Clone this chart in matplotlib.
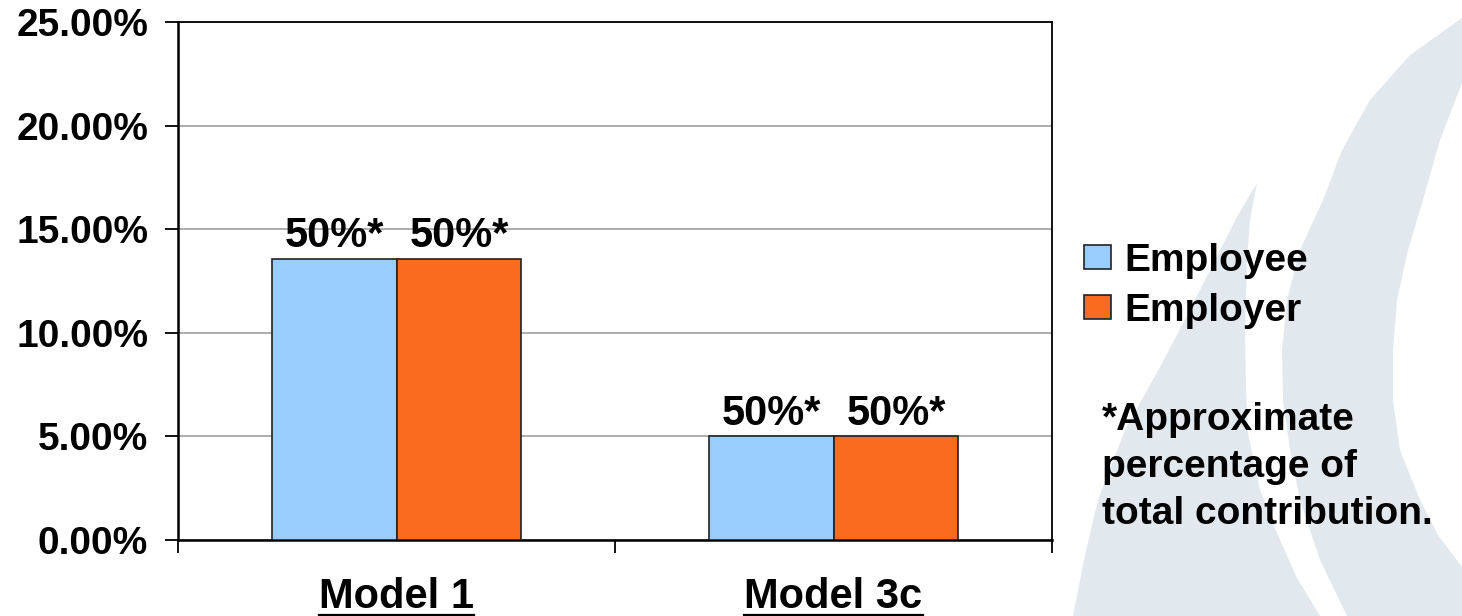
import numpy as np
import matplotlib
matplotlib.use("Agg")
import matplotlib.pyplot as plt
from matplotlib.patches import Polygon
from matplotlib.lines import Line2D

# Chart data
models = ["Model 1", "Model 3c"]
employee = [13.56, 5.0]
employer = [13.56, 5.0]
share_labels = ["50%*", "50%*"]
series_names = ["Employee", "Employer"]
yticks = [0, 5, 10, 15, 20, 25]

plt.rcParams["font.family"] = ["Liberation Sans", "DejaVu Sans"]
plt.rcParams["font.weight"] = "bold"

W, H = 1462, 616
fig = plt.figure(figsize=(W / 100, H / 100), dpi=100)


def px(pts):
    # pixel coords (y down) -> figure fraction
    return [(x / W, 1 - y / H) for x, y in pts]


# background swoosh decoration
swoosh = "#e2e9ee"
shape_a = px([(1462, 18), (1410, 55), (1370, 100), (1342, 150), (1323, 200), (1300, 250),
              (1287, 300), (1282, 350), (1283, 400), (1290, 450), (1300, 500), (1320, 560),
              (1347, 616), (1462, 616), (1462, 567), (1438, 535), (1420, 500), (1400, 450),
              (1393, 400), (1393, 350), (1397, 300), (1408, 250), (1423, 200), (1440, 140),
              (1462, 83)])
shape_b = px([(1257, 183), (1250, 220), (1247, 260), (1245, 333), (1246, 390), (1248, 433),
              (1260, 490), (1277, 533), (1297, 578), (1320, 616), (1073, 616), (1085, 555),
              (1098, 500), (1125, 430), (1160, 367), (1190, 310), (1215, 260), (1238, 215)])
for pts in (shape_a, shape_b):
    fig.patches.append(Polygon(pts, closed=True, facecolor=swoosh, edgecolor="none",
                               transform=fig.transFigure, zorder=-10))

ax = fig.add_axes([178 / W, 1 - 540 / H, (1052 - 178) / W, (540 - 22) / H])

x = np.arange(len(models))
width = 0.286
b1 = ax.bar(x - width / 2, employee, width, color="#99ccff", edgecolor="#222222",
            linewidth=1.2, label=series_names[0], zorder=3)
b2 = ax.bar(x + width / 2, employer, width, color="#f96b1e", edgecolor="#222222",
            linewidth=1.2, label=series_names[1], zorder=3)
ax.bar_label(b1, labels=share_labels, padding=2, fontsize=30, fontweight="bold")
ax.bar_label(b2, labels=share_labels, padding=2, fontsize=30, fontweight="bold")

ax.set_xlim(-0.5, 1.5)
ax.set_ylim(0, 25)
ax.set_yticks(yticks)
ax.set_yticklabels(["{:.2f}%".format(v) for v in yticks], fontsize=28, fontweight="bold")
ax.yaxis.grid(True, color="#a0a0a0", linewidth=1.2, zorder=0)
ax.set_axisbelow(True)

ax.set_xticks(x)
ax.set_xticklabels(models, fontsize=30, fontweight="bold")
ax.set_xticks([-0.5, 0.5, 1.5], minor=True)
ax.tick_params(axis="x", which="major", length=0, pad=27)
ax.tick_params(axis="x", which="minor", length=9, width=1.3, direction="out")
ax.tick_params(axis="y", length=9.5, width=1.3, direction="out", pad=12)

for side in ["left", "bottom", "top", "right"]:
    ax.spines[side].set_color("black")
    ax.spines[side].set_linewidth(1.3)
ax.spines["left"].set_linewidth(1.8)
ax.spines["bottom"].set_linewidth(1.8)

leg = ax.legend(loc="center left", bbox_to_anchor=(1084 / W, 1 - 286 / H),
                bbox_transform=fig.transFigure, frameon=False, fontsize=28,
                handlelength=0.7, handleheight=0.57, handletextpad=0.35,
                labelspacing=0.36, borderpad=0, borderaxespad=0)
for t in leg.get_texts():
    t.set_fontweight("bold")

fig.text(1102 / W, 1 - 402 / H, "*Approximate\npercentage of\ntotal contribution.",
         fontsize=28, fontweight="bold", va="top", ha="left", linespacing=1.4)

# underline the category labels
fig.canvas.draw()
renderer = fig.canvas.get_renderer()
for lab in ax.get_xticklabels():
    bb = lab.get_window_extent(renderer)
    yline = max(bb.y0 + 3, 1.5)
    fig.lines.append(Line2D([bb.x0 / W, bb.x1 / W], [yline / H, yline / H],
                            transform=fig.transFigure, color="black", linewidth=1.6))

fig.savefig("out.png", dpi=100)
